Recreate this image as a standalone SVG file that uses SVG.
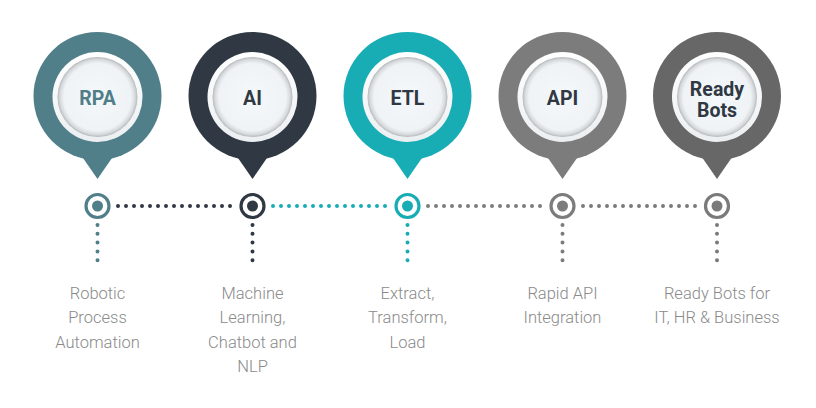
<svg xmlns="http://www.w3.org/2000/svg" width="816" height="408" viewBox="0 0 816 408">
<defs>
<radialGradient id="disk" cx="0.5" cy="0.5" r="0.5">
<stop offset="0" stop-color="#f5f8fa"/>
<stop offset="0.84" stop-color="#eff3f5"/>
<stop offset="0.94" stop-color="#d7dadc"/>
<stop offset="1" stop-color="#b5b8ba"/>
</radialGradient>
<linearGradient id="ring" x1="0" y1="0" x2="0" y2="1">
<stop offset="0" stop-color="#ffffff"/>
<stop offset="1" stop-color="#eceff1"/>
</linearGradient>
</defs>
<style>
.lbl{font-family:Roboto,"Liberation Sans",sans-serif;font-weight:bold;font-size:19.5px;text-anchor:middle}
.desc{font-family:Roboto,"Liberation Sans",sans-serif;font-weight:300;font-size:16.5px;fill:#8a8a8a;text-anchor:middle}
.dots{fill:none;stroke-width:4;stroke-linecap:round}
.h{stroke-dasharray:0 8}
.v{stroke-dasharray:0 8.8}
.dring{fill:#ffffff;stroke-width:3.2}
.wring{fill:url(#ring)}
.wdisk{fill:url(#disk)}
</style>
<rect width="816" height="408" fill="#ffffff"/>

<g id="connectors">
<line class="dots h" x1="118" y1="206" x2="234" y2="206" stroke="#2f3843"/>
<line class="dots h" x1="273" y1="206" x2="389" y2="206" stroke="#18adb5"/>
<line class="dots h" x1="428" y1="206" x2="544" y2="206" stroke="#7c7c7d"/>
<line class="dots h" x1="583" y1="206" x2="699" y2="206" stroke="#7a7a7a"/>
<line class="dots v" x1="97.5" y1="225" x2="97.5" y2="269" stroke="#507f8a"/>
<line class="dots v" x1="252.5" y1="225" x2="252.5" y2="269" stroke="#2f3843"/>
<line class="dots v" x1="407.5" y1="225" x2="407.5" y2="269" stroke="#18adb5"/>
<line class="dots v" x1="562.5" y1="225" x2="562.5" y2="269" stroke="#7c7c7d"/>
<line class="dots v" x1="717" y1="225" x2="717" y2="269" stroke="#7a7a7a"/>
</g>

<g id="rpa">
<circle cx="97.5" cy="96" r="64" fill="#507f8a"/>
<path d="M77.5,150 L97.5,179 L117.5,150 Z" fill="#507f8a"/>
<circle class="wring" cx="97.5" cy="97" r="45"/>
<circle class="wdisk" cx="97.5" cy="97" r="40"/>
<text class="lbl" x="97.5" y="105" fill="#4f7d88">RPA</text>
<circle class="dring" cx="97.5" cy="206" r="11.5" stroke="#507f8a"/>
<circle cx="97.5" cy="206" r="5.5" fill="#507f8a"/>
<text class="desc" x="97.5" y="299">Robotic</text>
<text class="desc" x="97.5" y="323">Process</text>
<text class="desc" x="97.5" y="348">Automation</text>
</g>

<g id="ai">
<circle cx="252.5" cy="96" r="64" fill="#2f3843"/>
<path d="M232.5,150 L252.5,179 L272.5,150 Z" fill="#2f3843"/>
<circle class="wring" cx="252.5" cy="97" r="45"/>
<circle class="wdisk" cx="252.5" cy="97" r="40"/>
<text class="lbl" x="252.5" y="105" fill="#2f3843">AI</text>
<circle class="dring" cx="252.5" cy="206" r="11.5" stroke="#2f3843"/>
<circle cx="252.5" cy="206" r="5.5" fill="#2f3843"/>
<text class="desc" x="252.5" y="299">Machine</text>
<text class="desc" x="252.5" y="323">Learning,</text>
<text class="desc" x="252.5" y="348">Chatbot and</text>
<text class="desc" x="252.5" y="372">NLP</text>
</g>

<g id="etl">
<circle cx="407.5" cy="96" r="64" fill="#18adb5"/>
<path d="M387.5,150 L407.5,179 L427.5,150 Z" fill="#18adb5"/>
<circle class="wring" cx="407.5" cy="97" r="45"/>
<circle class="wdisk" cx="407.5" cy="97" r="40"/>
<text class="lbl" x="407.5" y="105" fill="#2f3843">ETL</text>
<circle class="dring" cx="407.5" cy="206" r="11.5" stroke="#18adb5"/>
<circle cx="407.5" cy="206" r="5.5" fill="#18adb5"/>
<text class="desc" x="407.5" y="299">Extract,</text>
<text class="desc" x="407.5" y="323">Transform,</text>
<text class="desc" x="407.5" y="348">Load</text>
</g>

<g id="api">
<circle cx="562.5" cy="96" r="64" fill="#7c7c7d"/>
<path d="M542.5,150 L562.5,179 L582.5,150 Z" fill="#7c7c7d"/>
<circle class="wring" cx="562.5" cy="97" r="45"/>
<circle class="wdisk" cx="562.5" cy="97" r="40"/>
<text class="lbl" x="562.5" y="105" fill="#2f3843">API</text>
<circle class="dring" cx="562.5" cy="206" r="11.5" stroke="#7c7c7d"/>
<circle cx="562.5" cy="206" r="5.5" fill="#7c7c7d"/>
<text class="desc" x="562.5" y="299">Rapid API</text>
<text class="desc" x="562.5" y="323">Integration</text>
</g>

<g id="readybots">
<circle cx="717" cy="96" r="64" fill="#676767"/>
<path d="M697,150 L717,179 L737,150 Z" fill="#676767"/>
<circle class="wring" cx="717" cy="97" r="45"/>
<circle class="wdisk" cx="717" cy="97" r="40"/>
<text class="lbl" x="717" y="96" fill="#2f3843">Ready</text>
<text class="lbl" x="717" y="117" fill="#2f3843">Bots</text>
<circle class="dring" cx="717" cy="206" r="11.5" stroke="#7a7a7a"/>
<circle cx="717" cy="206" r="5.5" fill="#7a7a7a"/>
<text class="desc" x="717" y="299">Ready Bots for</text>
<text class="desc" x="717" y="323">IT, HR &amp; Business</text>
</g>
</svg>
